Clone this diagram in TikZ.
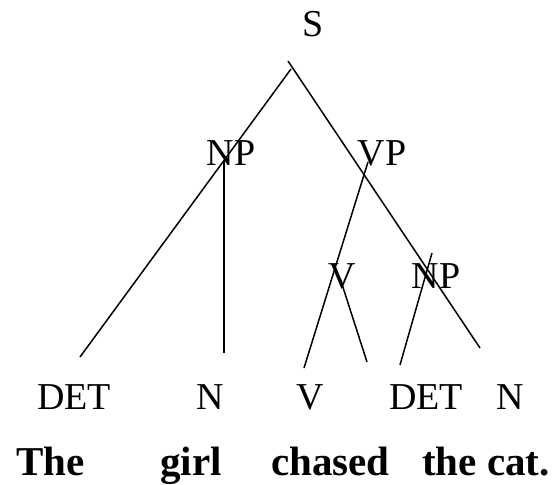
\documentclass[tikz,border=0pt]{standalone}
\usepackage{fontspec}
\setmainfont{Liberation Serif}
\begin{document}
\begin{tikzpicture}[x=1pt,y=-1pt,
  cat/.style={font=\fontsize{38}{40}\selectfont,inner sep=0pt,anchor=base},
  word/.style={font=\fontsize{41}{44}\selectfont\bfseries,inner sep=0pt,anchor=base west},
  edge/.style={line width=1.5pt}]
\useasboundingbox (0,0) rectangle (555,485);
% categories
\node[cat] (S) at (313,36) {S};
\node[cat] (NP) at (231,165) {NP};
\node[cat] (VP) at (382,165) {VP};
\node[cat] (V) at (342,288) {V};
\node[cat] (NPb) at (436,288) {NP};
\node[cat] (DETa) at (74,409) {DET};
\node[cat] (Na) at (210,409) {N};
\node[cat] (Vb) at (310,409) {V};
\node[cat] (DETb) at (426,409) {DET};
\node[cat] (Nb) at (510,409) {N};
% words
\node[word] (the) at (16,475) {The};
\node[word] (girl) at (160,475) {girl};
\node[word] (chased) at (271,475) {chased};
\node[word] (cat) at (422,475) {the cat.};
% line ends
\coordinate (S-l) at (291,69);
\coordinate (S-r) at (288,61);
\coordinate (DETa-t) at (80,357);
\coordinate (Nb-t) at (480,348);
\coordinate (NP-b) at (224,160);
\coordinate (Na-t) at (224,353);
\coordinate (VP-b) at (368,162);
\coordinate (Vb-t) at (304,368);
\coordinate (V-b) at (340,278);
\coordinate (V-t) at (367,362);
\coordinate (NPb-b) at (432,253);
\coordinate (DETb-t) at (400,365);
\draw[edge] (S-l) -- (DETa-t);
\draw[edge] (S-r) -- (Nb-t);
\draw[edge] (NP-b) -- (Na-t);
\draw[edge] (VP-b) -- (Vb-t);
\draw[edge] (V-b) -- (V-t);
\draw[edge] (NPb-b) -- (DETb-t);
\end{tikzpicture}
\end{document}
